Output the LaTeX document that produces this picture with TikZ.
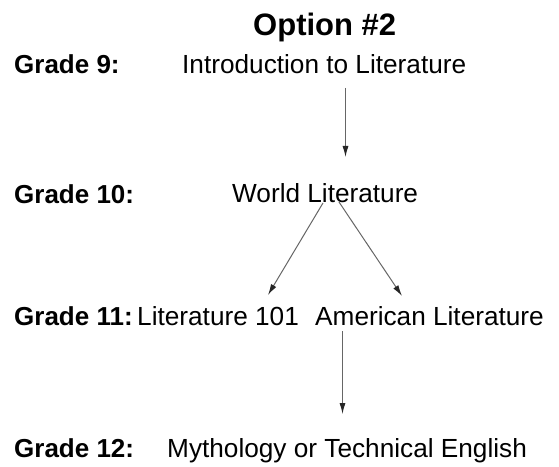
\documentclass[tikz,border=0pt]{standalone}
\usepackage{fontspec}
\setmainfont{Liberation Sans}
\usetikzlibrary{arrows.meta}
\begin{document}
\begin{tikzpicture}[x=1pt,y=1pt,
  lbl/.style={anchor=base west, inner sep=0pt, font=\fontsize{26}{30}\selectfont\bfseries},
  crs/.style={anchor=base west, inner sep=0pt, font=\fontsize{26.2}{30}\selectfont},
  ttl/.style={anchor=base west, inner sep=0pt, font=\fontsize{31}{36}\selectfont\bfseries},
  arr/.style={draw=black!60, line width=1pt, -{Latex[length=11pt,width=6pt,color=black!85]}}]
\useasboundingbox[fill=white] (0,0) rectangle (559,466);
% title
\node[ttl] (title) at (253,430) {Option \#2};
% rows
\node[lbl] (g9) at (14,392) {Grade 9:};
\node[crs] (intro) at (182,392) {Introduction to Literature};
\node[lbl] (g10) at (14,262) {Grade 10:};
\node[crs] (world) at (232,263) {World Literature};
\node[lbl] (g11) at (14,140) {Grade 11:};
\node[crs] (lit) at (137,140) {Literature 101};
\node[crs] (amer) at (315,140) {American Literature};
\node[lbl] (g12) at (14,9) {Grade 12:};
\node[crs] (myth) at (167,9) {Mythology or Technical English};
% arrow end points
\coordinate (a1s) at (345.5,378);
\coordinate (a1e) at (345.5,309);
\coordinate (a2s) at (323,263);
\coordinate (a2e) at (268,171);
\coordinate (a3s) at (339,264);
\coordinate (a3e) at (402,170);
\coordinate (a4s) at (342.5,135);
\coordinate (a4e) at (342.5,52);
\draw[arr] (a1s) -- (a1e);
\draw[arr] (a2s) -- (a2e);
\draw[arr] (a3s) -- (a3e);
\draw[arr] (a4s) -- (a4e);
\end{tikzpicture}
\end{document}
